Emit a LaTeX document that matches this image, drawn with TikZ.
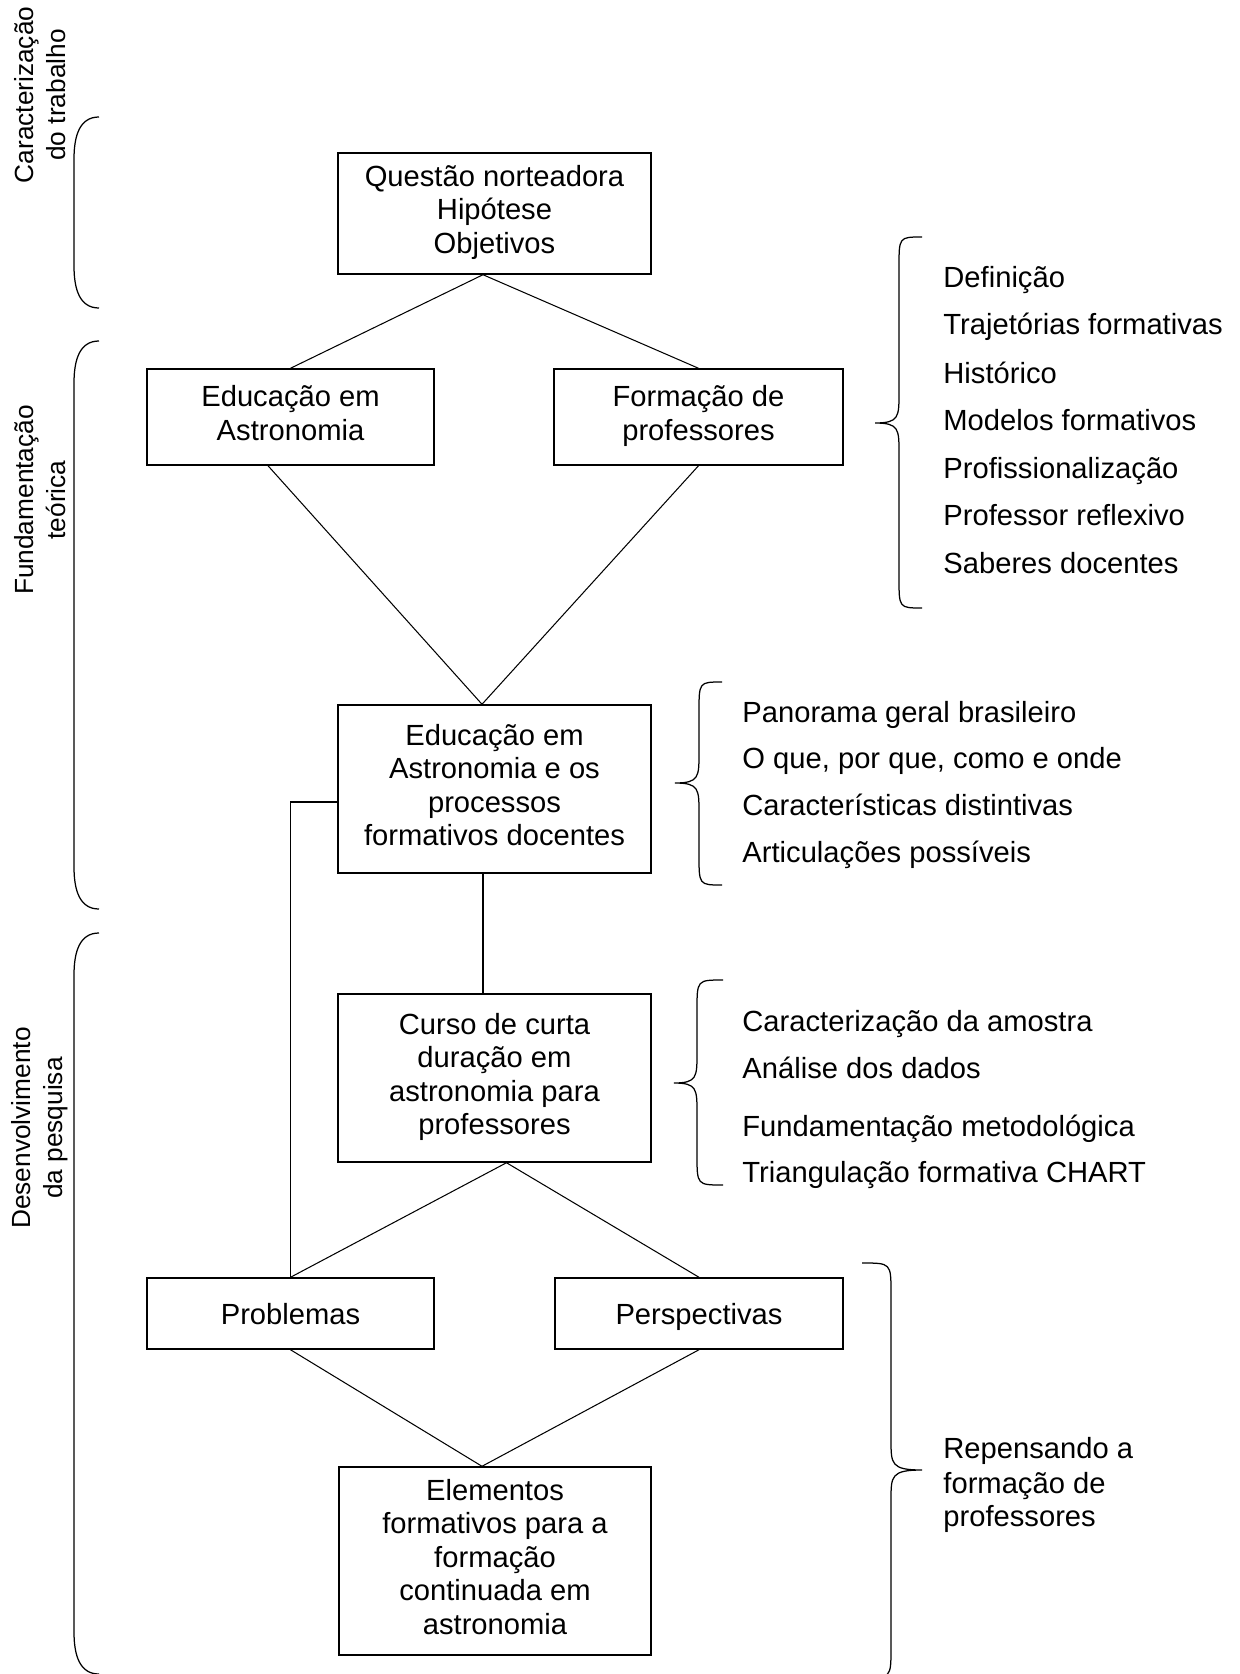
\documentclass[tikz,border=0pt]{standalone}
\usepackage{fontspec}
\setmainfont{Liberation Sans}
\usetikzlibrary{calc}
\newcommand\px{0.48pt}
\tikzset{
  box/.style={draw, line width=0.7pt, align=center, inner sep=0pt, font=\fontsize{14}{16.1}\selectfont,
    execute at begin node={\rule{0pt}{14.6pt}}, execute at end node={\rule[-4pt]{0pt}{4pt}}},
  conn/.style={line width=0.5pt},
  brc/.style={line width=0.6pt},
  item/.style={anchor=base west, inner sep=0pt, font=\fontsize{14}{16.1}\selectfont},
  side/.style={rotate=90, align=center, inner sep=0pt, font=\fontsize{12.6}{15.4}\selectfont},
}
% curly brace: xend xmid xtip ytop ytip ybottom
\newcommand\curlybr[6]{%
  \draw[brc] (#1,#4) .. controls (#2,#4) and (#2,#4) .. (#2,#4+30) -- (#2,#5-30)
    .. controls (#2,#5-6) and (#2,#5) .. (#3,#5)
    .. controls (#2,#5) and (#2,#5+6) .. (#2,#5+30) -- (#2,#6-30)
    .. controls (#2,#6) and (#2,#6) .. (#1,#6);}
% side bracket: ytop ybottom
\newcommand\sidebr[2]{%
  \draw[brc] (99,#1) .. controls (80,#1) and (74,#1+18) .. (74,#1+42) -- (74,#2-42)
    .. controls (74,#2-18) and (80,#2) .. (99,#2);}
\begin{document}
\begin{tikzpicture}[x=0.48pt,y=-0.48pt]
\fill[white] (0,0) rectangle (1240,1674);
\clip (0,0) rectangle (1240,1674);

% side labels
\node[side] (l1) at (40,95) {Caracterização\\do trabalho};
\node[side] (l2) at (40,500) {Fundamentação\\teórica};
\node[side] (l3) at (40,1128) {Desenvolvimento\\da pesquisa};
\sidebr{117}{308}
\sidebr{341}{909}
\sidebr{933}{1674}

% boxes
\node[box, minimum width=313*\px, minimum height=121*\px] (Q) at (494.5,213.5) {Questão norteadora\\Hipótese\\Objetivos};
\node[box, minimum width=287*\px, minimum height=96*\px] (EA) at (290.5,417) {Educação em\\Astronomia};
\node[box, minimum width=289*\px, minimum height=96*\px] (FP) at (698.5,417) {Formação de\\professores};
\node[box, minimum width=313*\px, minimum height=168*\px] (EAP) at (494.5,789) {Educação em\\Astronomia e os\\processos\\formativos docentes};
\node[box, minimum width=313*\px, minimum height=168*\px] (Curso) at (494.5,1078) {Curso de curta\\duração em\\astronomia para\\professores};
\node[box, minimum width=287*\px, minimum height=71*\px] (Prob) at (290.5,1313.5) {Problemas};
\node[box, minimum width=288*\px, minimum height=71*\px] (Persp) at (699,1313.5) {Perspectivas};
\node[box, minimum width=312*\px, minimum height=188*\px] (Elem) at (495,1561) {Elementos\\formativos para a\\formação\\continuada em\\astronomia};

% connectors
\coordinate (qa) at ($(Q.south)+(-11.5,0)$);
\draw[conn] (qa) -- (EA.north);
\draw[conn] (qa) -- (FP.north);
\coordinate (eapn) at ($(EAP.north)+(-12.5,0)$);
\coordinate (eas) at ($(EA.south)+(-22.5,0)$);
\draw[conn] (eas) -- (eapn);
\draw[conn] (FP.south) -- (eapn);
\coordinate (eaps) at ($(EAP.south)+(-11.5,0)$);
\coordinate (cn) at ($(Curso.north)+(-11.5,0)$);
\draw[conn] (eaps) -- (cn);
\coordinate (eapw) at ($(EAP.west)+(0,13)$);
\draw[conn] (eapw) -| (Prob.north);
\coordinate (cs) at ($(Curso.south)+(12,0)$);
\draw[conn] (cs) -- (Prob.north);
\draw[conn] (cs) -- (Persp.north);
\coordinate (eln) at ($(Elem.north)+(-13,0)$);
\draw[conn] (Prob.south) -- (eln);
\draw[conn] (Persp.south) -- (eln);

% right braces and lists
\curlybr{922}{899}{875}{237}{423}{608}
\node[item] (a1) at (943,287) {Definição};
\node[item] (a2) at (943,334) {Trajetórias formativas};
\node[item] (a3) at (943,383) {Histórico};
\node[item] (a4) at (943,430) {Modelos formativos};
\node[item] (a5) at (943,478) {Profissionalização};
\node[item] (a6) at (943,525) {Professor reflexivo};
\node[item] (a7) at (943,573) {Saberes docentes};

\curlybr{722}{699}{675}{682}{783}{885}
\node[item] (b1) at (742,722) {Panorama geral brasileiro};
\node[item] (b2) at (742,768) {O que, por que, como e onde};
\node[item] (b3) at (742,815) {Características distintivas};
\node[item] (b4) at (742,862) {Articulações possíveis};

\curlybr{723}{697}{674}{980}{1083}{1185}
\node[item] (c1) at (742,1031) {Caracterização da amostra};
\node[item] (c2) at (742,1078) {Análise dos dados};
\node[item] (c3) at (742,1136) {Fundamentação metodológica};
\node[item] (c4) at (742,1182) {Triangulação formativa CHART};

\curlybr{862}{891}{922}{1263}{1470}{1678}
\node[item] (d1) at (943,1458) {Repensando a};
\node[item] (d2) at (943,1493) {formação de};
\node[item] (d3) at (943,1526) {professores};
\end{tikzpicture}
\end{document}
